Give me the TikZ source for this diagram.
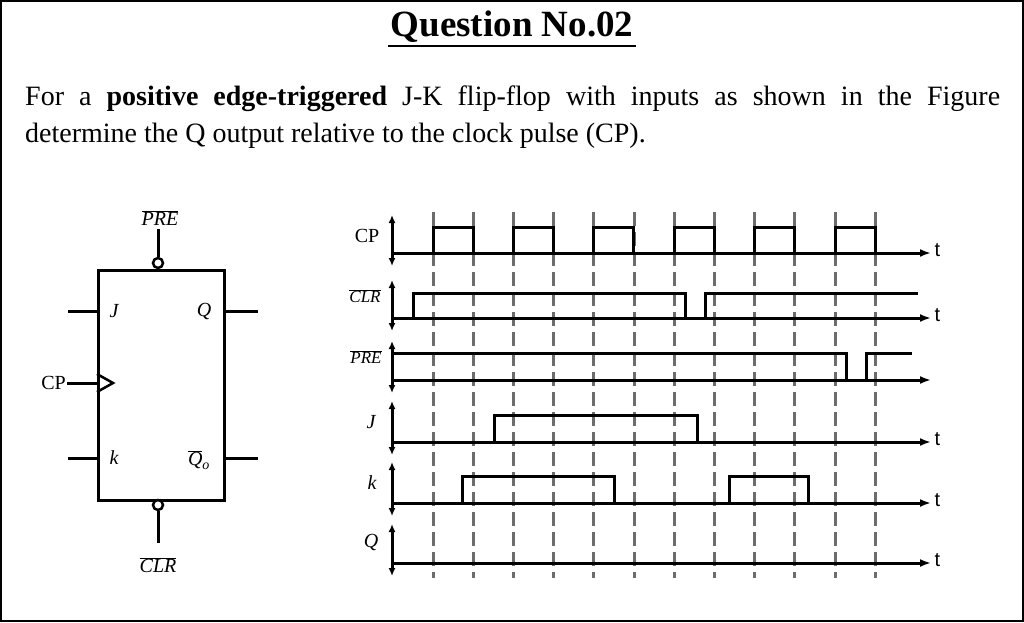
\documentclass[tikz,border=0pt]{standalone}
\usepackage{fontspec}
\setmainfont{Liberation Serif}
\newfontfamily\sansf{Liberation Sans}
\usetikzlibrary{arrows.meta}
\newcommand{\ovl}[1]{$\overline{\hbox{\itshape #1}}$}
\begin{document}
\begin{tikzpicture}[x=1pt,y=-1pt,
  sig/.style={line width=3pt,line join=miter},
  ax/.style={line width=3pt,-{Latex[length=11pt,width=8pt]}},
  vax/.style={line width=3pt,{Latex[length=8pt,width=7pt]}-{Latex[length=8pt,width=7pt]}},
  tick/.style={gray!85!black,line width=3pt,dash pattern=on 14pt off 6pt},
  wire/.style={line width=3pt},
  lab/.style={font=\fontsize{20}{20}\selectfont},
  ilab/.style={font=\itshape\fontsize{20}{20}\selectfont},
  tl/.style={font=\sansf\fontsize{20}{20}\selectfont,anchor=west}]
\useasboundingbox (0,0) rectangle (1024,622);
\draw[line width=2pt] (1,1) rectangle (1023,621);
\node[font=\bfseries\fontsize{37}{37}\selectfont] (title) at (512,27) {Question No.02};
\draw[line width=2pt] (388,46) -- (636,46);
\node[anchor=north west,text width=975pt,align=justify,inner sep=0pt,font=\fontsize{28}{37}\selectfont] (para) at (25,86)
{For a \textbf{positive edge-triggered} J-K flip-flop with inputs as shown in the Figure\linebreak determine the Q output relative to the clock pulse (CP).};
% flip-flop
\node[draw,line width=3pt,minimum width=126pt,minimum height=230pt,anchor=north west,inner sep=0pt] (ff) at (97,269) {};
\node[draw,circle,line width=2.5pt,minimum size=10pt,inner sep=0pt,fill=white] (b1) at (158,263) {};
\node[draw,circle,line width=2.5pt,minimum size=10pt,inner sep=0pt,fill=white] (b2) at (158,505) {};
\coordinate (pt) at (158,229); \coordinate (pb) at (158,543);
\draw[wire] (b1) -- (pt); \draw[wire] (b2) -- (pb);
\node[ilab] (pre) at (160,218) {\ovl{PRE}};
\node[ilab] (clrl) at (158,565) {\ovl{CLR}};
\coordinate (j0) at (68,311); \coordinate (j1) at (97,311);
\coordinate (k0) at (68,458); \coordinate (k1) at (97,458);
\coordinate (q0) at (223,311); \coordinate (q1) at (258,311);
\coordinate (n0) at (223,458); \coordinate (n1) at (258,458);
\coordinate (c0) at (67,383); \coordinate (c1) at (97,383);
\draw[wire] (j0)--(j1) (k0)--(k1) (q0)--(q1) (n0)--(n1) (c0)--(c1);
\draw[line width=2.5pt] (97,374) -- (113,383) -- (97,392);
\node[lab,anchor=east,inner sep=1pt] (cpl) at (c0) {CP};
\node[ilab] (jl) at (114,311) {J};
\node[ilab] (kl) at (114,458) {k};
\node[ilab] (ql) at (204,311) {Q};
\node[ilab] (qnl) at (199,460) {$\overline{\hbox{\itshape Q}}_{\hbox{\itshape\fontsize{14}{14}\selectfont o}}$};
% timing ticks
\foreach \i in {0,...,11} \draw[tick] ({433+40.2*\i},212) -- ({433+40.2*\i},578);
% axes
\foreach \b/\t/\n in {253/215/cp,318/280/clr,380/341/pre,442/401/j,503/462/k,563/524/q}{
  \coordinate (\n v0) at (392,\t); \coordinate (\n v1) at (392,{\b+13});
  \draw[vax] (\n v0) -- (\n v1);
  \coordinate (\n a0) at (392,\b); \coordinate (\n a1) at (931,\b);
  \draw[ax] (\n a0) -- (\n a1);
}
\foreach \n/\b in {cp/253,clr/318,j/442,k/503,q/563} \node[tl] (t\n) at (931,{\b-3}) {t};
% CP
\foreach \i in {0,...,5} \draw[sig] ({433+80.4*\i},253) -- ({433+80.4*\i},227) -- ({473+80.4*\i},227) -- ({473+80.4*\i},253);
% CLR
\draw[sig] (392,318) -- (413,318) -- (413,293) -- (685,293) -- (685,318) -- (705,318) -- (705,293) -- (918,293);
% PRE
\draw[sig] (392,353) -- (846,353) -- (846,380) -- (866,380) -- (866,353) -- (912,353);
% J
\draw[sig] (392,442) -- (494,442) -- (494,415) -- (697,415) -- (697,442);
% k
\draw[sig] (392,503) -- (462,503) -- (462,476) -- (614,476) -- (614,503);
\draw[sig] (729,503) -- (729,476) -- (808,476) -- (808,503);
% labels
\node[lab] (cpL) at (367,236) {CP};
\node[ilab,font=\itshape\fontsize{17}{17}\selectfont] (clrL) at (365,296) {\ovl{CLR}};
\node[ilab,font=\itshape\fontsize{17}{17}\selectfont] (preL) at (366,357) {\ovl{PRE}};
\node[ilab] (jL) at (371,422) {J};
\node[ilab] (kL) at (372,483) {k};
\node[ilab] (qL) at (371,542) {Q};
\end{tikzpicture}
\end{document}
